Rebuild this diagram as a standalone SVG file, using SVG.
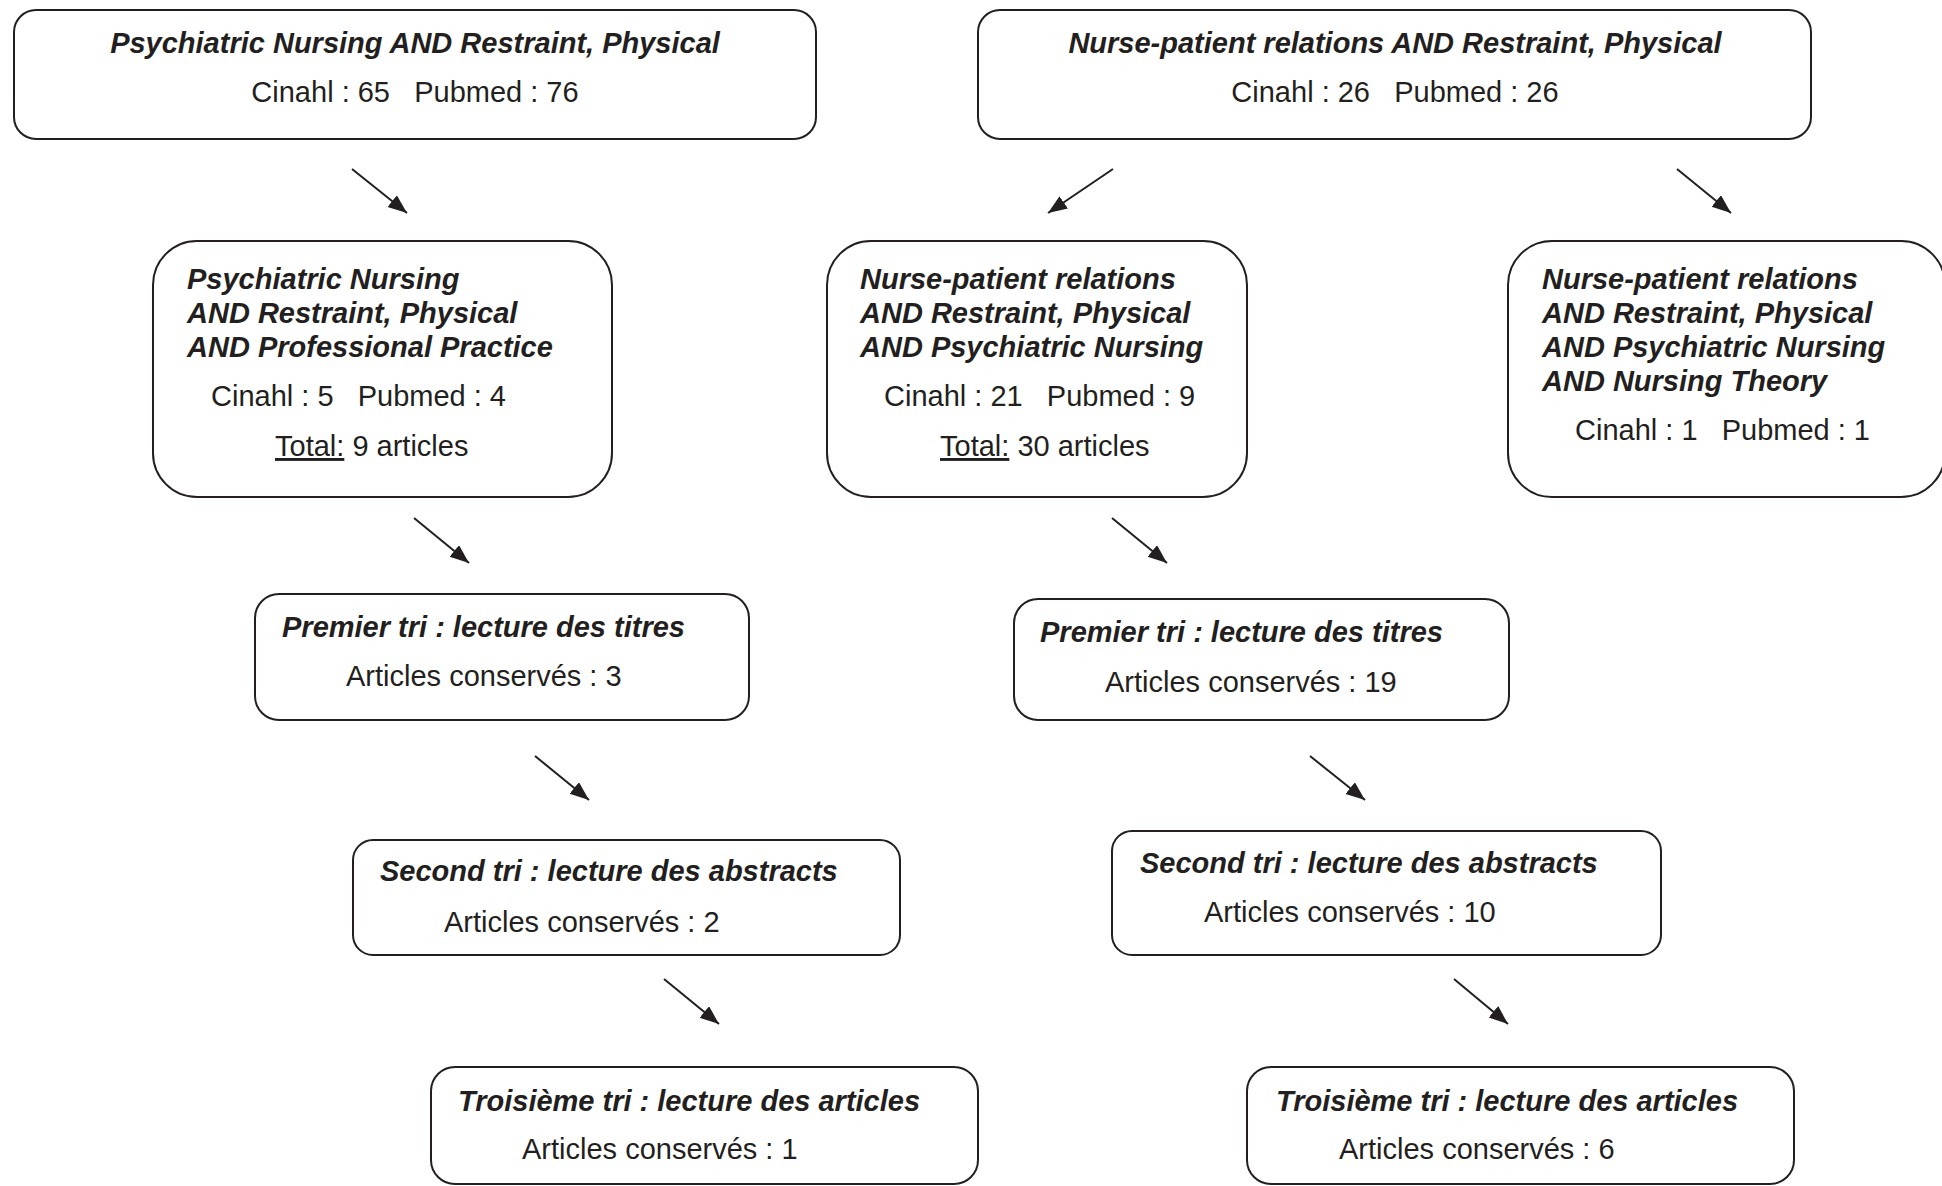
<svg xmlns="http://www.w3.org/2000/svg" width="1942" height="1186" viewBox="0 0 1942 1186">
<style>
  .box { fill: #ffffff; stroke: #231f20; stroke-width: 2; }
  text { font-family: "Liberation Sans", Arial, sans-serif; font-size: 29px; fill: #231f20; white-space: pre; }
  .t { font-weight: bold; font-style: italic; }
  .c { text-anchor: middle; }
  .edge { stroke: #231f20; stroke-width: 2; fill: none; marker-end: url(#ah); }
</style>
<defs>
  <marker id="ah" markerUnits="userSpaceOnUse" markerWidth="20" markerHeight="16" refX="19" refY="7.5" orient="auto">
    <path d="M0,0 L19,7.5 L0,15 z" fill="#231f20"/>
  </marker>
</defs>
<rect width="1942" height="1186" fill="#ffffff"/>

<g id="connectors">
  <line class="edge" x1="352" y1="169" x2="407" y2="213"/>
  <line class="edge" x1="1113" y1="169" x2="1048" y2="213"/>
  <line class="edge" x1="1677" y1="169" x2="1731" y2="213"/>
  <line class="edge" x1="414" y1="518" x2="469" y2="563"/>
  <line class="edge" x1="1112" y1="518" x2="1167" y2="563"/>
  <line class="edge" x1="535" y1="756" x2="589" y2="800"/>
  <line class="edge" x1="1310" y1="756" x2="1365" y2="800"/>
  <line class="edge" x1="664" y1="979" x2="719" y2="1024"/>
  <line class="edge" x1="1454" y1="979" x2="1508" y2="1024"/>
</g>

<g id="search-psy">
  <rect class="box" x="14" y="10" width="802" height="129" rx="22"/>
  <text class="t c" x="415" y="53">Psychiatric Nursing AND Restraint, Physical</text>
  <text class="c" x="415" y="102">Cinahl : 65   Pubmed : 76</text>
</g>

<g id="search-npr">
  <rect class="box" x="978" y="10" width="833" height="129" rx="22"/>
  <text class="t c" x="1395" y="53">Nurse-patient relations AND Restraint, Physical</text>
  <text class="c" x="1395" y="102">Cinahl : 26   Pubmed : 26</text>
</g>

<g id="search-psy-pp">
  <rect class="box" x="153" y="241" width="459" height="256" rx="44"/>
  <text class="t" x="187" y="289">Psychiatric Nursing</text>
  <text class="t" x="187" y="323">AND Restraint, Physical</text>
  <text class="t" x="187" y="357">AND Professional Practice</text>
  <text x="211" y="406">Cinahl : 5   Pubmed : 4</text>
  <text x="275" y="456"><tspan text-decoration="underline">Total:</tspan> 9 articles</text>
</g>

<g id="search-npr-psy">
  <rect class="box" x="827" y="241" width="420" height="256" rx="44"/>
  <text class="t" x="860" y="289">Nurse-patient relations</text>
  <text class="t" x="860" y="323">AND Restraint, Physical</text>
  <text class="t" x="860" y="357">AND Psychiatric Nursing</text>
  <text x="884" y="406">Cinahl : 21   Pubmed : 9</text>
  <text x="940" y="456"><tspan text-decoration="underline">Total:</tspan> 30 articles</text>
</g>

<g id="search-npr-theory">
  <rect class="box" x="1508" y="241" width="437" height="256" rx="44"/>
  <text class="t" x="1542" y="289">Nurse-patient relations</text>
  <text class="t" x="1542" y="323">AND Restraint, Physical</text>
  <text class="t" x="1542" y="357">AND Psychiatric Nursing</text>
  <text class="t" x="1542" y="391">AND Nursing Theory</text>
  <text x="1575" y="440">Cinahl : 1   Pubmed : 1</text>
</g>

<g id="tri1-left">
  <rect class="box" x="255" y="594" width="494" height="126" rx="24"/>
  <text class="t" x="282" y="637">Premier tri : lecture des titres</text>
  <text x="346" y="686">Articles conservés : 3</text>
</g>

<g id="tri1-right">
  <rect class="box" x="1014" y="599" width="495" height="121" rx="24"/>
  <text class="t" x="1040" y="642">Premier tri : lecture des titres</text>
  <text x="1105" y="692">Articles conservés : 19</text>
</g>

<g id="tri2-left">
  <rect class="box" x="353" y="840" width="547" height="115" rx="20"/>
  <text class="t" x="380" y="881">Second tri : lecture des abstracts</text>
  <text x="444" y="932">Articles conservés : 2</text>
</g>

<g id="tri2-right">
  <rect class="box" x="1112" y="831" width="549" height="124" rx="20"/>
  <text class="t" x="1140" y="873">Second tri : lecture des abstracts</text>
  <text x="1204" y="922">Articles conservés : 10</text>
</g>

<g id="tri3-left">
  <rect class="box" x="431" y="1067" width="547" height="117" rx="24"/>
  <text class="t" x="458" y="1111">Troisième tri : lecture des articles</text>
  <text x="522" y="1159">Articles conservés : 1</text>
</g>

<g id="tri3-right">
  <rect class="box" x="1247" y="1067" width="547" height="117" rx="24"/>
  <text class="t" x="1276" y="1111">Troisième tri : lecture des articles</text>
  <text x="1339" y="1159">Articles conservés : 6</text>
</g>
</svg>
